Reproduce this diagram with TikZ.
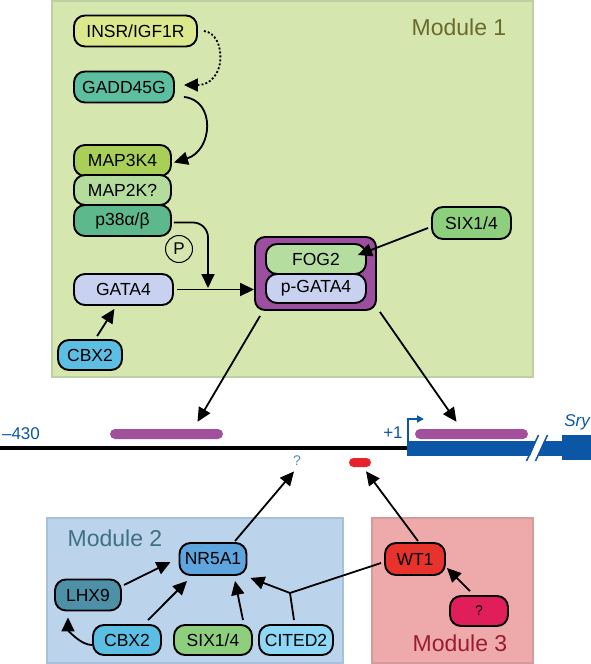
\documentclass[tikz,border=0pt]{standalone}
\usepackage{fontspec}
\setmainfont{Liberation Sans}
\usetikzlibrary{arrows.meta}

\definecolor{mod1bg}{HTML}{D5E6AE}
\definecolor{mod1line}{HTML}{BCD0A4}
\definecolor{mod1text}{HTML}{6B6A2C}
\definecolor{mod2bg}{HTML}{BCD3EC}
\definecolor{mod2line}{HTML}{A8C0DA}
\definecolor{mod2text}{HTML}{3D7080}
\definecolor{mod3bg}{HTML}{EEAAAA}
\definecolor{mod3line}{HTML}{D49B9B}
\definecolor{mod3text}{HTML}{9B1C2E}
\definecolor{insrc}{HTML}{DBE88C}
\definecolor{gaddc}{HTML}{5CBFA0}
\definecolor{mapkkkc}{HTML}{A9CF58}
\definecolor{mapkkc}{HTML}{B4DC9C}
\definecolor{pttc}{HTML}{5DB98C}
\definecolor{gatac}{HTML}{C8D2F0}
\definecolor{cbxc}{HTML}{5DBEE4}
\definecolor{cplxc}{HTML}{9C4F9F}
\definecolor{fogc}{HTML}{B5DD9F}
\definecolor{sixc}{HTML}{8ECF7E}
\definecolor{nrc}{HTML}{5DA5DC}
\definecolor{lhxc}{HTML}{4E90A8}
\definecolor{citedc}{HTML}{8ED8F6}
\definecolor{wtc}{HTML}{E8332D}
\definecolor{qc}{HTML}{E01E5A}
\definecolor{dnablue}{HTML}{0B57A5}
\definecolor{qblue}{HTML}{4F8CC0}
\definecolor{sitepurple}{HTML}{A24F9C}
\definecolor{sitered}{HTML}{E8222A}

\pgfdeclarelayer{background}
\pgfsetlayers{background,main}

\tikzset{
    % genes
    gene/.style={
        draw=black,
        line width=1.9pt,
        rounded corners=11pt,
        minimum height=31pt,
        inner sep=0pt,
        font=\fontsize{17.5}{17.5}\selectfont
    },
    % modules
    module-box/.style={
        line width=1.5pt
    },
    module-label/.style={
        font=\fontsize{23}{23}\selectfont
    },
    % promoter
    bind-site/.style={
        draw=none,
        rounded corners=5pt,
        minimum height=10pt,
        inner sep=0pt
    },
    dna-label/.style={
        text=dnablue,
        inner sep=0pt,
        font=\fontsize{17}{17}\selectfont
    },
    % arrows
    link/.style={
        line width=1.8pt,
        ->
    },
    dotted-link/.style={
        link,
        dash pattern=on 2pt off 2pt
    }
}

\begin{document}
\begin{tikzpicture}[x=1pt, y=1pt, >={Triangle[length=14pt,width=13pt]}]

    \useasboundingbox (0,0) rectangle (591,-664);

    \begin{pgfonlayer}{background}
        % modules
        \draw[module-box, draw=mod1line, fill=mod1bg] (52,-1) rectangle (533,-377);
        \draw[module-box, draw=mod2line, fill=mod2bg] (47,-518) rectangle (343,-663);
        \draw[module-box, draw=mod3line, fill=mod3bg] (372,-518) rectangle (533,-663);
    \end{pgfonlayer}

    \node[module-label, text=mod1text] (mod1) at (459,-27) {Module 1};
    \node[module-label, text=mod2text] (mod2) at (115,-538) {Module 2};
    \node[module-label, text=mod3text] (mod3) at (460,-643) {Module 3};

    % promoter
    \draw[line width=4pt] (0,-448) -- (407,-448);
    \fill[dnablue] (407,-441) rectangle (562,-456);
    \fill[dnablue] (562,-435) rectangle (591,-460);
    \draw[white, line width=7pt] (531,-463) -- (543.5,-433);
    \draw[dnablue, line width=1.5pt] (526.5,-461) -- (538.5,-435);
    \draw[dnablue, line width=1.5pt] (535.5,-461) -- (547.5,-435);
    \draw[dnablue, line width=2pt, -{Triangle[length=7pt,width=7pt]}] (408,-441) -- (408,-419) -- (424,-419);

    \node[dna-label] (start) at (21,-434) {–430};
    \node[dna-label] (tss) at (393,-433) {+1};
    \node[dna-label] (sry) at (577,-422) {\itshape Sry};
    \node[text=qblue, font=\fontsize{14}{14}\selectfont] (qdna) at (297,-461) {?};

    \node[bind-site, fill=sitepurple, minimum width=113pt] (sitel) at (166.5,-434) {};
    \node[bind-site, fill=sitepurple, minimum width=113pt] (siter) at (471.5,-434) {};
    \node[bind-site, fill=sitered, minimum width=22pt, minimum height=9pt, rounded corners=4.5pt] (siteq) at (360,-462.5) {};

    % module 1 nodes
    \node[gene, fill=insrc, minimum width=123pt] (insr) at (135.5,-31) {INSR/IGF1R};
    \node[gene, fill=gaddc, minimum width=100pt] (gadd) at (124,-87) {GADD45G};
    \node[gene, fill=mapkkkc, minimum width=97pt] (mapkkk) at (122.5,-160.5) {MAP3K4};
    \node[gene, fill=mapkkc, minimum width=97pt, minimum height=30pt] (mapkk) at (122.5,-190) {MAP2K?};
    \node[gene, fill=pttc, minimum width=97pt] (ptt) at (122.5,-220.5) {p38α/β};
    \node[gene, fill=gatac, minimum width=99pt] (gataa) at (123.5,-289.5) {GATA4};
    \node[gene, fill=cbxc, minimum width=64pt, minimum height=30pt] (cbxa) at (90,-355) {CBX2};
    \node[draw, circle, line width=1pt, minimum size=27pt, inner sep=0pt, font=\fontsize{17}{17}\selectfont] (phos) at (179,-249) {P};

    \node[gene, fill=cplxc, rounded corners=10pt, minimum width=121pt, minimum height=73pt] (cplx) at (315.5,-273.5) {};
    \node[gene, fill=fogc, minimum width=100pt, minimum height=30pt] (fog) at (316,-259) {FOG2};
    \node[gene, fill=gatac, minimum width=100pt, minimum height=29pt] (pgata) at (316,-288.5) {p-GATA4};
    \node[gene, fill=sixc, minimum width=79pt, minimum height=32pt] (sixa) at (471.5,-223) {SIX1/4};

    \coordinate (pjoin) at (208,-288);

    % module 1 edges
    \draw[dotted-link] ([xshift=6]insr.east) .. controls +(23,-3) and +(43,0) .. ([xshift=9,yshift=2]gadd.east);
    \draw[link] ([xshift=9,yshift=-10]gadd.east) .. controls +(32,-3) and +(39,12) .. ([xshift=2,yshift=-2]mapkkk.east);
    \draw[link, rounded corners=15pt] ([xshift=2,yshift=-2]ptt.east) -| (pjoin);
    \draw[link] ([xshift=3]gataa.east) -- (cplx.west |- gataa);
    \draw[link] ([xshift=1,yshift=3]cbxa.69) -- ([yshift=-3]gataa.241);
    \draw[link] ([xshift=-3,yshift=-5]sixa.west) -- ([xshift=-9,yshift=4]fog.east);
    \draw[link] ([xshift=6,yshift=-5]cplx.south west) -- ([xshift=31,yshift=7]sitel.north);
    \draw[link] ([xshift=3,yshift=-1]cplx.south east) -- ([xshift=-15,yshift=7]siter.north);

    % module 2 and 3 nodes
    \node[gene, fill=nrc, minimum width=67pt, minimum height=32pt] (nr) at (213,-559) {NR5A1};
    \node[gene, fill=lhxc, minimum width=66pt] (lhx) at (88,-595) {LHX9};
    \node[gene, fill=cbxc, minimum width=68pt, minimum height=30pt] (cbxb) at (127,-640) {CBX2};
    \node[gene, fill=sixc, minimum width=78pt, minimum height=30pt] (sixb) at (213,-640) {SIX1/4};
    \node[gene, fill=citedc, minimum width=74pt, minimum height=30pt] (cited) at (296,-640) {CITED2};
    \node[gene, fill=wtc, minimum width=60pt, minimum height=32pt] (wt) at (415,-559) {WT1};
    \node[gene, fill=qc, minimum width=58pt, minimum height=30pt, font=\fontsize{14}{14}\selectfont] (qn) at (479,-611) {?};

    \coordinate (jn) at (290,-593);

    % module 2 and 3 edges
    \draw[link] ([xshift=22,yshift=1]nr.north) -- ([xshift=-3,yshift=-2]qdna.south);
    \draw[link] ([xshift=3,yshift=1]wt.north) -- ([xshift=6,yshift=-4]siteq.south);
    \draw[link] ([xshift=2,yshift=10]lhx.east) -- ([xshift=-8,yshift=-3]nr.west);
    \draw[link] ([xshift=21,yshift=4]cbxb.north) -- ([xshift=-26,yshift=-5]nr.south);
    \draw[link] ([yshift=-5]cbxb.west) .. controls +(-12,0) and +(0,-12) .. ([xshift=-20,yshift=-6]lhx.south);
    \draw[link] ([xshift=30,yshift=4]sixb.north) -- ([xshift=22,yshift=-5]nr.south);
    \draw[line width=1.8pt] ([xshift=-2,yshift=4]cited.north) -- (jn);
    \draw[line width=1.8pt] ([xshift=-3,yshift=-4]wt.west) -- (jn);
    \draw[link] (jn) -- ([xshift=3,yshift=-2]nr.south east);
    \draw[link] ([xshift=-9,yshift=4]qn.north) -- ([xshift=1,yshift=-9]wt.east);

\end{tikzpicture}
\end{document}
